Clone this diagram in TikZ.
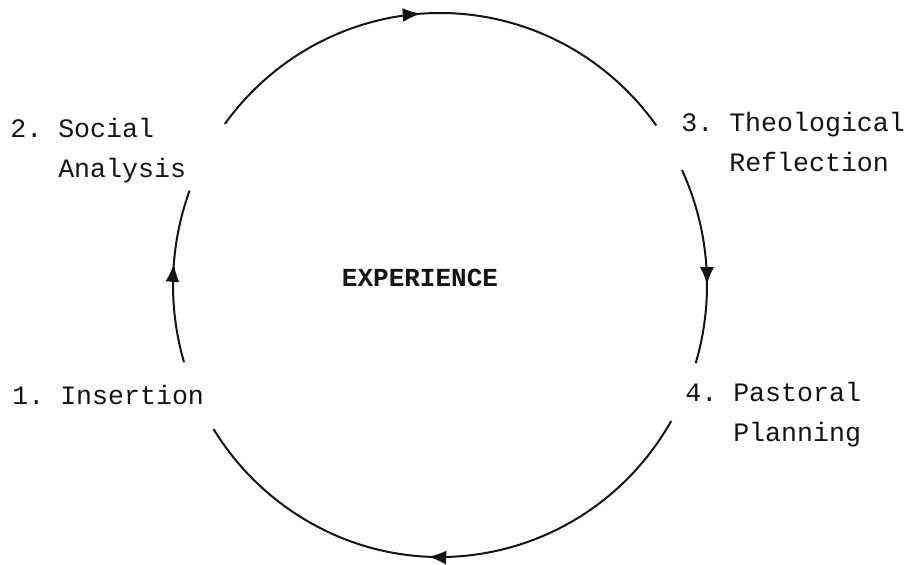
\documentclass[tikz,border=0pt]{standalone}
\usepackage{fontspec}
\setmainfont{Liberation Mono}
\usepackage{tikz}
\usetikzlibrary{
  arrows.meta,
  calc,
  decorations.markings
}
\definecolor{ink}{RGB}{20,20,20}
\frenchspacing
% one arc of the cycle: name, start angle, end angle, arrow position
\newcommand{\cyclearc}[4]{%
  \coordinate (#1) at ($(mid)+(#2:267 and 272)$);%
  \draw[cycle line, decoration={markings, mark=at position #4 with {\arrow{Latex[length=9pt,width=7pt]}}}]
    (#1) arc[start angle=#2, end angle=#3, x radius=267, y radius=272];%
}

\begin{document}
\begin{tikzpicture}[x=0.5pt,y=0.5pt,
  cycle line/.style={ink,line width=1pt,postaction={decorate}},
  step label/.style={font=\fontsize{13.3}{20}\selectfont,text=ink,align=left,inner sep=0pt,anchor=base west}]
  \useasboundingbox (0,0) rectangle (910,565);
  \coordinate (mid) at (440,280);

  % the four stages (base = last line)
  \node[step label] (soc) at (10,387) {2. Social\\\hspace*{1.8em}Analysis};
  \node[step label] (theo) at (681,393) {3. Theological\\\hspace*{1.8em}Reflection};
  \node[step label] (past) at (685,123) {4. Pastoral\\\hspace*{1.8em}Planning};
  \node[step label] (ins) at (12,160) {1. Insertion};
  \node[step label,font=\fontsize{13}{20}\bfseries\selectfont,anchor=base] (exp) at (420,278) {EXPERIENCE};

  % arcs between them
  \cyclearc{soctheo}{143.7}{35.9}{0.46}
  \cyclearc{theopast}{25}{-16.7}{0.6}
  \cyclearc{pastins}{-30}{-148}{0.53}
  \cyclearc{inssoc}{196.5}{159.7}{0.57}
\end{tikzpicture}
\end{document}
